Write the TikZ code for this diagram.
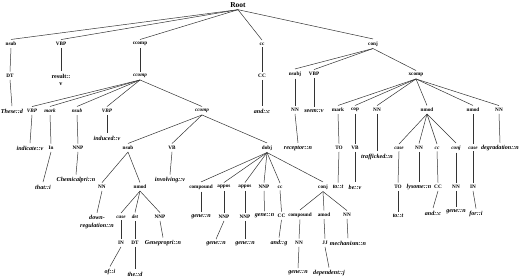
\documentclass[tikz,border=0pt]{standalone}
\usepackage{fontspec}
\setmainfont{Liberation Serif}
\begin{document}
\begin{tikzpicture}[x=1pt,y=1pt,
  every node/.style={inner sep=1.2pt,outer sep=0pt},
  tag/.style={font=\fontsize{5.2}{6}\selectfont\bfseries},
  itag/.style={font=\fontsize{5.2}{6}\selectfont\bfseries\itshape},
  word/.style={font=\fontsize{6.1}{7.5}\selectfont\bfseries\itshape,align=center},
  edge/.style={draw=black!80,line width=0.5pt}]
\useasboundingbox (0,0) rectangle (520,278);
% level 0
\node[font=\fontsize{7.5}{9}\selectfont\bfseries] (root) at (238,273) {Root};
% level 1
\node[tag] (n1) at (11,234) {nsub};
\node[tag] (v1) at (61,234) {VBP};
\node[tag] (c1) at (140,234) {ccomp};
\node[tag] (cc1) at (262,234) {cc};
\node[tag] (cj1) at (373,234) {conj};
% level 2
\node[tag] (dt1) at (10,202) {DT};
\node[word,font=\fontsize{6.1}{7.5}\selectfont\bfseries] (res) at (61,198) {result::\\v};
\node[itag] (c2) at (140,202) {ccomp};
\node[tag] (CC1) at (262,202) {CC};
\node[tag] (ns2) at (295,204) {nsubj};
\node[tag] (vbp2) at (314,204) {VBP};
\node[tag] (xc) at (416,203) {xcomp};
% level 3
\node[word] (these) at (12,167) {These::d};
\node[itag] (vbp3) at (32,167) {VBP};
\node[itag] (mk3) at (50,167) {mark};
\node[itag] (ns3) at (77,167) {nsub};
\node[itag] (vbp4) at (107,167) {VBP};
\node[itag] (c3) at (202,167) {ccomp};
\node[word] (andc) at (262,167) {and::c};
\node[tag] (nn2) at (295,168) {NN};
\node[word] (seem) at (314,167) {seem::v};
\node[tag] (mk4) at (338,168) {mark};
\node[tag] (cop) at (355,168) {cop};
\node[tag] (nn3) at (377,168) {NN};
\node[tag] (nm1) at (427,168) {nmod};
\node[tag] (nm2) at (473,168) {nmod};
\node[tag] (nn4) at (499,168) {NN};
% level 4
\node[word] (ind) at (30,130) {indicate::v};
\node[tag] (in1) at (51,130) {In};
\node[tag] (nnp1) at (78,130) {NNP};
\node[word] (induced) at (107,140) {induced::v};
\node[tag] (ns4) at (128,130) {nsub};
\node[tag] (vb1) at (172,130) {VB};
\node[tag] (dobj) at (267,130) {dobj};
\node[word] (rec) at (298,130) {receptor::n};
\node[tag] (to1) at (339,130) {TO};
\node[tag] (vb2) at (355,130) {VB};
\node[word] (traf) at (377,121) {trafficked::n};
\node[itag] (case1) at (399,130) {case};
\node[tag] (nn5) at (419,130) {NN};
\node[itag] (cc2) at (437,130) {cc};
\node[itag] (conj2) at (456,130) {conj};
\node[itag] (case2) at (473,130) {case};
\node[word] (degr) at (500,130) {degradation::n};
% level 5
\node[word] (that) at (43,91) {that::i};
\node[word] (chem) at (76,98) {Chemicalpri::n};
\node[tag] (nn6) at (102,91) {NN};
\node[tag] (nm3) at (140,91) {nmod};
\node[word] (inv) at (170,98) {involving::v};
\node[tag] (comp1) at (201,91) {compound};
\node[tag] (app1) at (224,91) {appos};
\node[tag] (app2) at (245,91) {appos};
\node[tag] (nnp2) at (264,91) {NNP};
\node[tag] (cc3) at (280,91) {cc};
\node[tag] (conj3) at (323,91) {conj};
\node[word] (tot1) at (338,91) {to::t};
\node[word] (bev) at (355,91) {be::v};
\node[tag] (to2) at (398,91) {TO};
\node[word] (lys) at (419,91) {lysome::n};
\node[tag] (CC2) at (438,91) {CC};
\node[tag] (nn7) at (456,91) {NN};
\node[tag] (in2) at (473,91) {IN};
% level 6
\node[word] (down) at (97,56) {down-\\regulation::n};
\node[itag] (case3) at (121,61) {case};
\node[itag] (det) at (135,61) {det};
\node[tag] (nnp3) at (160,61) {NNP};
\node[word] (gene1) at (201,61) {gene::n};
\node[tag] (nnp4) at (224,61) {NNP};
\node[tag] (nnp5) at (245,61) {NNP};
\node[word] (gene2) at (264.5,62) {gene::n};
\node[tag] (CC3) at (281.5,62) {CC};
\node[tag] (comp2) at (300,63) {compound};
\node[tag] (amod) at (324,63) {amod};
\node[tag] (nn8) at (347,63) {NN};
\node[word] (tot2) at (398,62) {to::t};
\node[word] (andc2) at (433,65) {and::c};
\node[word] (gene3) at (456,66) {gene::n};
\node[word] (for) at (476,64) {for::i};
% level 7
\node[tag] (in3) at (121,35) {IN};
\node[tag] (dt2) at (135,35) {DT};
\node[word] (gp) at (163,35) {Genepropri::n};
\node[word] (gene4) at (216,34) {gene::n};
\node[word] (gene5) at (245,34) {gene::n};
\node[word] (andg) at (279,35) {and::g};
\node[tag] (nn9) at (299,35) {NN};
\node[tag] (jj) at (325,35) {JJ};
\node[word] (mech) at (348,35) {mechanism::n};
% level 8
\node[word] (of) at (110,6) {of::i};
\node[word] (the) at (135,4) {the::d};
\node[word] (gene6) at (298,5) {gene::n};
\node[word] (dep) at (329,5) {dependent::j};
% edges
\foreach \a/\b in {root/n1,root/v1,root/c1,root/cc1,root/cj1,
  n1/dt1,dt1/these,v1/res,c1/c2,
  c2/vbp3,c2/mk3,c2/ns3,c2/vbp4,c2/c3,
  vbp3/ind,mk3/in1,in1/that,ns3/nnp1,nnp1/chem,vbp4/induced,
  c3/ns4,c3/vb1,c3/dobj,
  ns4/nn6,ns4/nm3,nn6/down,nm3/case3,nm3/det,nm3/nnp3,
  case3/in3,in3/of,det/dt2,dt2/the,nnp3/gp,
  vb1/inv,
  dobj/comp1,dobj/app1,dobj/app2,dobj/nnp2,dobj/cc3,dobj/conj3,
  comp1/gene1,app1/nnp4,nnp4/gene4,app2/nnp5,nnp5/gene5,nnp2/gene2,cc3/CC3,CC3/andg,
  conj3/comp2,conj3/amod,conj3/nn8,comp2/nn9,nn9/gene6,amod/jj,jj/dep,nn8/mech,
  cc1/CC1,CC1/andc,
  cj1/ns2,cj1/vbp2,cj1/xc,ns2/nn2,nn2/rec,vbp2/seem,
  xc/mk4,xc/cop,xc/nn3,xc/nm1,xc/nm2,xc/nn4,
  mk4/to1,to1/tot1,cop/vb2,vb2/bev,nn3/traf,
  nm1/case1,nm1/nn5,nm1/cc2,nm1/conj2,case1/to2,to2/tot2,nn5/lys,cc2/CC2,CC2/andc2,
  conj2/nn7,nn7/gene3,
  nm2/case2,case2/in2,in2/for,nn4/degr}
  \draw[edge] ([yshift=-1pt]\a.south) -- ([yshift=1.5pt]\b.north);
\end{tikzpicture}
\end{document}
